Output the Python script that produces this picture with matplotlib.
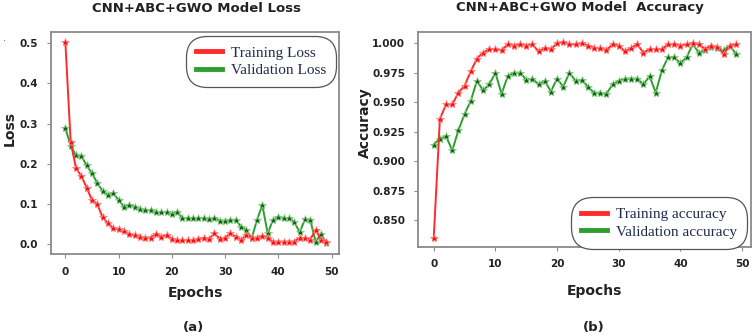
import numpy as np
import matplotlib
matplotlib.use("Agg")
import matplotlib.pyplot as plt

# values
epochs = np.arange(50)

train_loss = [0.503, 0.255, 0.189, 0.170, 0.141, 0.110, 0.100, 0.067, 0.052, 0.041,
              0.037, 0.032, 0.025, 0.022, 0.019, 0.017, 0.017, 0.026, 0.019, 0.024,
              0.013, 0.011, 0.011, 0.011, 0.011, 0.014, 0.016, 0.014, 0.027, 0.014,
              0.017, 0.027, 0.019, 0.011, 0.023, 0.017, 0.017, 0.021, 0.016, 0.007,
              0.007, 0.007, 0.007, 0.007, 0.017, 0.015, 0.012, 0.036, 0.012, 0.007]
val_loss = [0.289, 0.245, 0.221, 0.220, 0.196, 0.177, 0.152, 0.133, 0.123, 0.127,
            0.110, 0.094, 0.098, 0.094, 0.087, 0.085, 0.085, 0.080, 0.080, 0.081,
            0.075, 0.081, 0.065, 0.065, 0.066, 0.065, 0.065, 0.063, 0.065, 0.059,
            0.059, 0.061, 0.061, 0.044, 0.036, 0.015, 0.061, 0.098, 0.027, 0.061,
            0.067, 0.065, 0.065, 0.056, 0.030, 0.062, 0.061, 0.007, 0.025, 0.004]

train_acc = [0.835, 0.936, 0.948, 0.948, 0.958, 0.964, 0.976, 0.987, 0.992, 0.995,
             0.995, 0.994, 0.999, 0.998, 0.999, 0.998, 0.999, 0.993, 0.996, 0.995,
             1.000, 1.001, 0.999, 0.999, 1.000, 0.998, 0.996, 0.996, 0.994, 0.999,
             0.998, 0.993, 0.996, 0.999, 0.992, 0.995, 0.995, 0.995, 0.999, 0.999,
             0.998, 0.999, 1.000, 0.999, 0.995, 0.998, 0.997, 0.991, 0.998, 0.999]
val_acc = [0.914, 0.919, 0.921, 0.909, 0.926, 0.940, 0.951, 0.968, 0.960, 0.965,
           0.975, 0.957, 0.972, 0.975, 0.975, 0.969, 0.970, 0.965, 0.968, 0.959,
           0.970, 0.963, 0.975, 0.968, 0.969, 0.963, 0.958, 0.958, 0.957, 0.965,
           0.968, 0.970, 0.970, 0.970, 0.965, 0.972, 0.958, 0.977, 0.988, 0.988,
           0.983, 0.988, 0.999, 0.992, 0.994, 0.997, 0.996, 0.994, 0.998, 0.991]

loss_yticks = [0.0, 0.1, 0.2, 0.3, 0.4, 0.5]
acc_yticks = [0.850, 0.875, 0.900, 0.925, 0.950, 0.975, 1.000]
xticks = [0, 10, 20, 30, 40, 50]

RED = '#ff2a2a'
GREEN = '#2e9e2e'
TEXT = '#222222'
LEG_TEXT = '#1f2a48'
SPINE = '#8a8a8a'

fig = plt.figure(figsize=(7.54, 3.34), dpi=100, facecolor='white')
ax1 = fig.add_axes([0.0676, 0.2395, 0.382, 0.665])
ax2 = fig.add_axes([0.554, 0.2605, 0.4416, 0.643])


def draw(ax, tr, va, labels, yticks, fmt):
    ax.plot(epochs, tr, color=RED, lw=1.4, marker='*', ms=6,
            mfc='#ff1010', mec='#ff8080', mew=0.6, label=labels[0], zorder=3)
    ax.plot(epochs, va, color=GREEN, lw=1.4, marker='*', ms=6,
            mfc='#1f5e1f', mec='#7fd07f', mew=0.6, label=labels[1], zorder=2)
    ax.set_xticks(xticks)
    ax.set_yticks(yticks)
    ax.set_yticklabels([fmt.format(v) for v in yticks])
    ax.tick_params(length=3, width=0.8, color=SPINE, labelsize=7.5,
                   labelcolor=TEXT, pad=6)
    for lab in ax.get_xticklabels() + ax.get_yticklabels():
        lab.set_fontweight('bold')
    for s in ax.spines.values():
        s.set_color(SPINE)
        s.set_linewidth(1.3)
    leg_handles = [plt.Line2D([], [], color=RED, lw=3.5),
                   plt.Line2D([], [], color=GREEN, lw=3.5)]
    return leg_handles


leg_kw = dict(fancybox=True, prop={'family': 'Liberation Serif', 'size': 11},
              handlelength=1.7, handletextpad=0.6, labelspacing=0.25,
              borderpad=0.35, borderaxespad=0.2, edgecolor='#555555',
              framealpha=1)

h1 = draw(ax1, train_loss, val_loss, ('Training Loss', 'Validation Loss'),
          loss_yticks, '{:.1f}')
ax1.set_xlim(-2.7, 51.4)
ax1.set_ylim(-0.024, 0.528)
leg1 = ax1.legend(h1, ['Training Loss', 'Validation Loss'], loc='upper right',
                  bbox_to_anchor=(0.985, 0.975), **leg_kw)

h2 = draw(ax2, train_acc, val_acc, ('Training accuracy', 'Validation accuracy'),
          acc_yticks, '{:.3f}')
ax2.set_xlim(-2.6, 51.4)
ax2.set_ylim(0.8271, 1.0093)
leg2 = ax2.legend(h2, ['Training accuracy', 'Validation accuracy'], loc='lower right',
                  bbox_to_anchor=(0.985, 0.0), **leg_kw)

for leg in (leg1, leg2):
    leg.get_frame().set_boxstyle('round', pad=0.3, rounding_size=1.4)
    leg.get_frame().set_linewidth(0.9)
    for t in leg.get_texts():
        t.set_color(LEG_TEXT)

# titles and axis labels placed in figure pixels like the reference
W, H = 754, 334
def ftext(x, y, s, **kw):
    fig.text(x / W, 1 - y / H, s, ha='center', va='center', color=TEXT,
             fontweight='bold', **kw)

ftext(197, 8, 'CNN+ABC+GWO Model Loss', fontsize=9.5)
ftext(580, 8, 'CNN+ABC+GWO Model  Accuracy', fontsize=9.5)
ftext(10, 128, 'Loss', fontsize=10, rotation=90)
ftext(365, 123, 'Accuracy', fontsize=10, rotation=90)
ftext(195, 293, 'Epochs', fontsize=10)
ftext(594, 291, 'Epochs', fontsize=10)
ftext(193, 327, '(a)', fontsize=9.5)
ftext(594, 327, '(b)', fontsize=9.5)
fig.text(5 / W, 1 - 38 / H, '.', color='#1e7be0', fontsize=7,
         ha='center', va='center')

fig.savefig('out.png', dpi=100, facecolor='white')
